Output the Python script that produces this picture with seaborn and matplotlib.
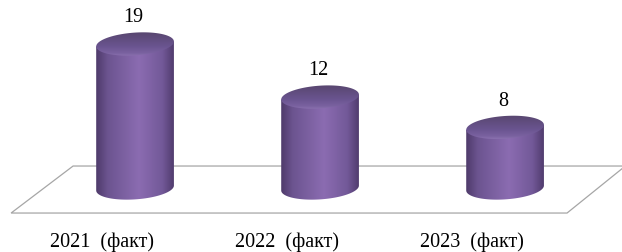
import numpy as np
import matplotlib
matplotlib.use("Agg")
import matplotlib.pyplot as plt
import seaborn as sns
from matplotlib.patches import Polygon
from matplotlib.colors import LinearSegmentedColormap

# data
categories = ["2021  (факт)", "2022  (факт)", "2023  (факт)"]
values = [19, 12, 8]

sns.set_style("white")
plt.rcParams['font.family'] = ['Liberation Serif', 'DejaVu Serif']

fig = plt.figure(figsize=(6.22, 2.53), dpi=100)
ax = fig.add_axes([0, 0, 1, 1])

sns.barplot(x=categories, y=values, ax=ax, width=0.42, color="#8064a2")

# cylinder shading
body_cmap = LinearSegmentedColormap.from_list(
    "cyl", [(0.0, "#4e3a6a"), (0.15, "#6c5490"), (0.55, "#8b6cb1"),
            (0.85, "#735999"), (1.0, "#503c6e")])
top_cmap = LinearSegmentedColormap.from_list(
    "top", [(0.0, "#8c72b0"), (0.12, "#7a62a0"), (0.4, "#6a5490"), (1.0, "#58466f")])
grad = np.linspace(0, 1, 256).reshape(1, -1)
vgrad = np.linspace(0, 1, 256).reshape(-1, 1)

ry = 1.5       # half height of the ellipses (value units)
k = 1.55       # tilt of the ellipses
t = np.linspace(0, 2 * np.pi, 200)

for p in ax.patches:
    x0, w, v = p.get_x(), p.get_width(), p.get_height()
    p.set_facecolor("none")
    p.set_edgecolor("none")
    cx, rx = x0 + w / 2, w / 2

    # body outline: sides + front half of bottom ellipse
    tb = np.linspace(np.pi, 2 * np.pi, 100)
    bx = cx + rx * np.cos(tb)
    by = ry * np.sin(tb) + k * (bx - cx)
    body = np.vstack([
        [[cx - rx, v - k * rx]],
        np.column_stack([bx, by]),
        [[cx + rx, v + k * rx]],
    ])
    clip = Polygon(body, closed=True, facecolor="none", edgecolor="none", zorder=2)
    ax.add_patch(clip)
    im = ax.imshow(grad, cmap=body_cmap, aspect="auto", zorder=2,
                   extent=[cx - rx, cx + rx, -ry - k * rx - 0.5, v + k * rx + 0.5])
    im.set_clip_path(clip)

    # top ellipse
    ex = cx + rx * np.cos(t)
    ey = v + ry * np.sin(t) + k * (ex - cx)
    top = Polygon(np.column_stack([ex, ey]), closed=True,
                  facecolor="none", edgecolor="none", zorder=3)
    ax.add_patch(top)
    im2 = ax.imshow(vgrad, cmap=top_cmap, aspect="auto", zorder=3, origin="lower",
                    extent=[cx - rx, cx + rx, ey.min(), ey.max()])
    im2.set_clip_path(top)

    ax.annotate(f"{v:g}", (cx, v), xytext=(-1, 19.5), textcoords="offset points",
                ha="center", va="center", fontsize=14.5, color="black")

# floor
n = len(categories)
floor = Polygon([[-0.335, 2.9], [n - 1 + 0.65, 2.9], [n - 1 + 0.335, -3.3], [-0.67, -3.3]],
                closed=True, facecolor="white", edgecolor="#a6a6a6", lw=0.9, zorder=0)
ax.add_patch(floor)

for i, lab in enumerate(categories):
    ax.text(i - 0.178, -7.0, lab, ha="center", va="center", fontsize=14.5, color="black")

ax.set_xlim(-0.73, 2.632)
ax.set_ylim(-8.44, 24.93)
ax.axis("off")

fig.savefig("out.png", dpi=100)
